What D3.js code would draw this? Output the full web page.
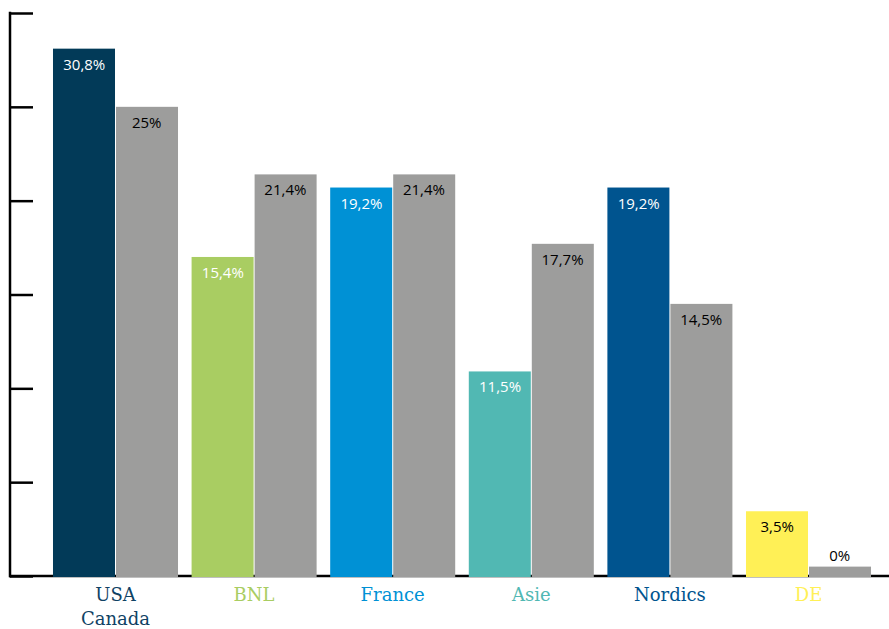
<!DOCTYPE html>
<html>
<head>
<meta charset="utf-8">
<script src="https://cdn.jsdelivr.net/npm/d3@7"></script>
<style>
  body { margin: 0; background: #fff; }
</style>
</head>
<body>
<div id="chart"></div>
<script>
const categories = ["USA\nCanada", "BNL", "France", "Asie", "Nordics", "DE"];
const regionColors = ["#023a58", "#a9cd62", "#0091d5", "#51b8b3", "#00548f", "#fff056"];
// bar heights as drawn (percent)
const regionValues = [28.1, 17.0, 20.7, 10.9, 20.7, 3.45];
const otherValues = [25.0, 21.4, 21.4, 17.7, 14.5, 0.5];
// texts shown on bars
const regionLabels = ["30,8%", "15,4%", "19,2%", "11,5%", "19,2%", "3,5%"];
const otherLabels = ["25%", "21,4%", "21,4%", "17,7%", "14,5%", "0%"];
const yTicks = [0, 5, 10, 15, 20, 25, 30];

const width = 889, height = 629;
const baseY = 576;

const svg = d3.select("#chart").append("svg")
  .attr("width", width)
  .attr("height", height);

const x = d3.scaleBand()
  .domain(categories)
  .range([46.2, 877.8])
  .paddingInner(0.098)
  .paddingOuter(0.049);

const sub = d3.scaleBand()
  .domain(["region", "other"])
  .range([0, x.bandwidth()]);

const y = d3.scaleLinear()
  .domain([0, 30])
  .range([baseY, 13]);

// axes
const yAxis = svg.append("g")
  .attr("transform", "translate(10,0)")
  .call(d3.axisRight(y).tickValues(yTicks).tickSize(23).tickFormat(""));
yAxis.select(".domain").remove();
yAxis.selectAll("line").attr("stroke", "#000").attr("stroke-width", 2.5);
svg.append("line")
  .attr("x1", 10).attr("x2", 10)
  .attr("y1", y(30) - 1.2).attr("y2", baseY + 1.2)
  .attr("stroke", "#000").attr("stroke-width", 2.5);
svg.append("line")
  .attr("x1", 9).attr("x2", width)
  .attr("y1", baseY).attr("y2", baseY)
  .attr("stroke", "#000").attr("stroke-width", 2.5);

const rows = categories.map((c, i) => ({
  cat: c, i: i,
  bars: [
    { key: "region", v: regionValues[i], label: regionLabels[i], fill: regionColors[i], text: i === 5 ? "#000" : "#fff" },
    { key: "other", v: otherValues[i], label: otherLabels[i], fill: "#9d9d9c", text: "#000" }
  ]
}));

const g = svg.selectAll("g.grp")
  .data(rows)
  .enter().append("g")
  .attr("class", "grp")
  .attr("transform", d => `translate(${x(d.cat)},0)`);

g.selectAll("rect")
  .data(d => d.bars)
  .enter().append("rect")
  .attr("x", b => sub(b.key) + (b.key === "other" ? 0.5 : 0))
  .attr("width", b => sub.bandwidth() - 0.5)
  .attr("y", b => y(b.v))
  .attr("height", b => baseY + 1 - y(b.v))
  .attr("fill", b => b.fill);

g.selectAll("text.val")
  .data(d => d.bars)
  .enter().append("text")
  .attr("class", "val")
  .attr("x", b => sub(b.key) + sub.bandwidth() / 2)
  .attr("y", b => b.v < 2 ? y(b.v) - 6 : y(b.v) + 21)
  .attr("text-anchor", "middle")
  .attr("font-family", "'Open Sans', sans-serif")
  .attr("font-size", 15)
  .attr("fill", b => b.text)
  .text(b => b.label);

// category labels
g.append("text")
  .attr("x", x.bandwidth() / 2)
  .attr("y", 601)
  .attr("text-anchor", "middle")
  .attr("font-family", "'DejaVu Serif', serif")
  .attr("font-size", 18)
  .attr("fill", d => d.i === 0 ? "#0f4264" : regionColors[d.i])
  .selectAll("tspan")
  .data(d => d.cat.split("\n"))
  .enter().append("tspan")
  .attr("x", x.bandwidth() / 2)
  .attr("dy", (t, j) => j === 0 ? 0 : 24)
  .text(t => t);
</script>
</body>
</html>
